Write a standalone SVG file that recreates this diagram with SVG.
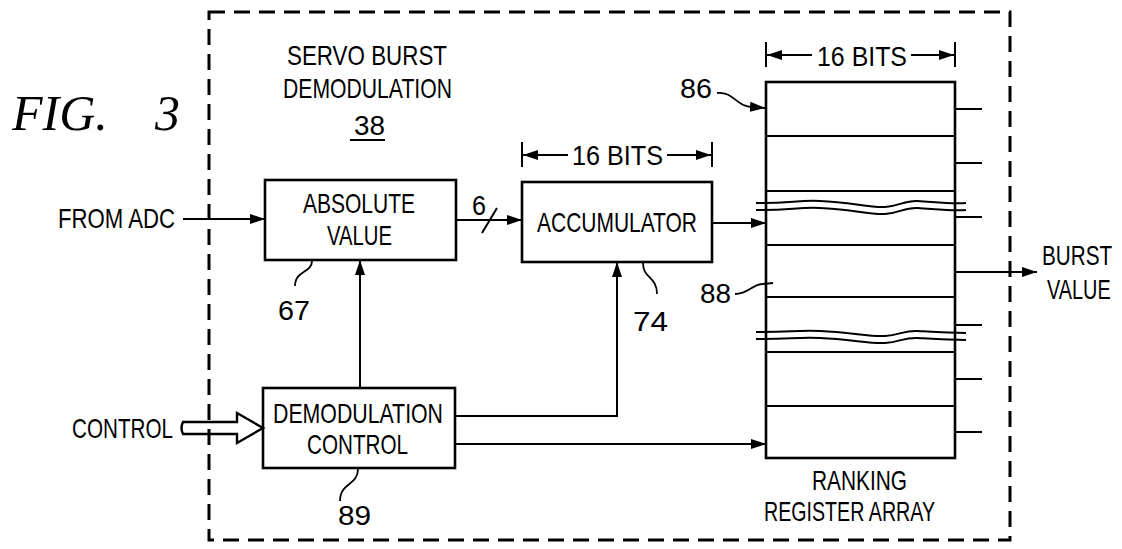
<svg xmlns="http://www.w3.org/2000/svg" width="1122" height="549" viewBox="0 0 1122 549">
<style>
.t{font-family:"Liberation Sans",Arial,sans-serif;font-size:28px;fill:#000}
.box{fill:none;stroke:#000;stroke-width:2.6}
.ln{fill:none;stroke:#000;stroke-width:2}
.lead{fill:none;stroke:#000;stroke-width:1.8}
.dash{fill:none;stroke:#000;stroke-width:3;stroke-dasharray:16 9}
</style>
<defs>
<marker id="ah" markerUnits="userSpaceOnUse" markerWidth="16" markerHeight="12" refX="15" refY="6" orient="auto">
<path d="M0,1 L15,6 L0,11 Z" fill="#000"/>
</marker>
</defs>
<rect id="boundary" class="dash" x="209" y="12" width="801" height="528"/>
<text class="t" x="12" y="130" style="font-family:'Liberation Serif',serif;font-style:italic;font-size:50px">FIG.<tspan x="155">3</tspan></text>
<g id="title">
<text class="t" x="287" y="65" textLength="160" lengthAdjust="spacingAndGlyphs">SERVO BURST</text>
<text class="t" x="283" y="98" textLength="169" lengthAdjust="spacingAndGlyphs">DEMODULATION</text>
<text class="t" x="354" y="135" textLength="31" lengthAdjust="spacingAndGlyphs">38</text>
<line class="ln" x1="350" y1="140" x2="385" y2="140"/>
</g>
<g id="connectors">
<line class="ln" x1="183" y1="219" x2="265" y2="219" marker-end="url(#ah)"/>
<line class="ln" x1="456" y1="220" x2="522" y2="220" marker-end="url(#ah)"/>
<line class="ln" x1="482" y1="233" x2="497" y2="208"/>
<line class="ln" x1="712" y1="223" x2="766" y2="223" marker-end="url(#ah)"/>
<line class="ln" x1="360" y1="388" x2="360" y2="260" marker-end="url(#ah)"/>
<polyline class="ln" points="455,416 617,416 617,262" marker-end="url(#ah)"/>
<line class="ln" x1="455" y1="444" x2="766" y2="444" marker-end="url(#ah)"/>
<line class="ln" x1="955" y1="272" x2="1037" y2="272" marker-end="url(#ah)"/>
<path d="M183,422 L237,422 L237,413 L263,428 L237,443 L237,434 L183,434 Q180,428 183,422 Z" fill="none" stroke="#000" stroke-width="2.4"/>
</g>
<g id="labels">
<text class="t" x="58" y="228" textLength="117" lengthAdjust="spacingAndGlyphs">FROM ADC</text>
<text class="t" x="72" y="438" textLength="101" lengthAdjust="spacingAndGlyphs">CONTROL</text>
<text class="t" x="472" y="215" textLength="14" lengthAdjust="spacingAndGlyphs">6</text>
<text class="t" transform="translate(1042,265) scale(0.74,1)" x="0" y="0">BURST</text>
<text class="t" transform="translate(1047,299) scale(0.71,1)" x="0" y="0">VALUE</text>
</g>
<g id="absolute-value">
<rect class="box" x="265" y="180" width="191" height="80"/>
<text class="t" x="303" y="213" textLength="112" lengthAdjust="spacingAndGlyphs">ABSOLUTE</text>
<text class="t" x="327" y="245" textLength="65" lengthAdjust="spacingAndGlyphs">VALUE</text>
<path class="lead" d="M312,261 C312,273 295,270 295,286"/>
<text class="t" x="278" y="320" textLength="32" lengthAdjust="spacingAndGlyphs">67</text>
</g>
<g id="accumulator">
<rect class="box" x="522" y="182" width="190" height="80"/>
<text class="t" x="537" y="232" textLength="160" lengthAdjust="spacingAndGlyphs">ACCUMULATOR</text>
<line class="ln" x1="522" y1="142" x2="522" y2="167"/>
<line class="ln" x1="712" y1="142" x2="712" y2="167"/>
<line class="ln" x1="568" y1="155" x2="523" y2="155" marker-end="url(#ah)"/>
<line class="ln" x1="667" y1="155" x2="711" y2="155" marker-end="url(#ah)"/>
<text class="t" x="572" y="165" textLength="91" lengthAdjust="spacingAndGlyphs">16 BITS</text>
<path class="lead" d="M643,263 C643,279 657,276 657,294"/>
<text class="t" x="633" y="331" textLength="35" lengthAdjust="spacingAndGlyphs">74</text>
</g>
<g id="demodulation-control">
<rect class="box" x="263" y="388" width="192" height="80"/>
<text class="t" x="273" y="423" textLength="170" lengthAdjust="spacingAndGlyphs">DEMODULATION</text>
<text class="t" x="307" y="454" textLength="101" lengthAdjust="spacingAndGlyphs">CONTROL</text>
<path class="lead" d="M358,469 C358,486 340,482 340,501"/>
<text class="t" x="338" y="525" textLength="33" lengthAdjust="spacingAndGlyphs">89</text>
</g>
<g id="ranking-register-array">
<rect class="box" x="766" y="82" width="189" height="376"/>
<g class="ln">
<line x1="766" y1="136" x2="955" y2="136"/>
<line x1="766" y1="191" x2="955" y2="191"/>
<line x1="766" y1="245" x2="955" y2="245"/>
<line x1="766" y1="297" x2="955" y2="297"/>
<line x1="766" y1="352" x2="955" y2="352"/>
<line x1="766" y1="406" x2="955" y2="406"/>
</g>
<g class="ln">
<line x1="955" y1="109" x2="982" y2="109"/>
<line x1="955" y1="163" x2="982" y2="163"/>
<line x1="955" y1="217" x2="982" y2="217"/>
<line x1="955" y1="325" x2="982" y2="325"/>
<line x1="955" y1="379" x2="982" y2="379"/>
<line x1="955" y1="432" x2="982" y2="432"/>
</g>
<g class="ln">
<path d="M756,203 C790,203 800,200 820,201 C850,202 870,208 885,207 C900,206 905,200 918,201 C935,202 950,204 966,203"/>
<path d="M756,210 C790,210 800,207 820,208 C850,209 870,215 885,214 C900,213 905,207 918,208 C935,209 950,211 966,210"/>
<path d="M756,332 C790,332 800,330 820,331 C850,332 870,337 885,336 C900,335 905,330 918,331 C935,332 950,333 966,333"/>
<path d="M756,339 C790,339 800,337 820,338 C850,339 870,344 885,343 C900,342 905,337 918,338 C935,339 950,340 966,340"/>
</g>
<line class="ln" x1="766" y1="42" x2="766" y2="67"/>
<line class="ln" x1="955" y1="42" x2="955" y2="67"/>
<line class="ln" x1="812" y1="55" x2="767" y2="55" marker-end="url(#ah)"/>
<line class="ln" x1="911" y1="55" x2="954" y2="55" marker-end="url(#ah)"/>
<text class="t" x="817" y="66" textLength="90" lengthAdjust="spacingAndGlyphs">16 BITS</text>
<text class="t" x="680" y="98" textLength="32" lengthAdjust="spacingAndGlyphs">86</text>
<path class="lead" d="M717,93 C733,91 737,107 752,107 L765,108" marker-end="url(#ah)"/>
<text class="t" x="700" y="303" textLength="31" lengthAdjust="spacingAndGlyphs">88</text>
<path class="lead" d="M735,294 C749,294 752,284 763,284 L773,283"/>
<text class="t" x="812" y="490" textLength="95" lengthAdjust="spacingAndGlyphs">RANKING</text>
<text class="t" x="764" y="521" textLength="171" lengthAdjust="spacingAndGlyphs">REGISTER ARRAY</text>
</g>
</svg>
